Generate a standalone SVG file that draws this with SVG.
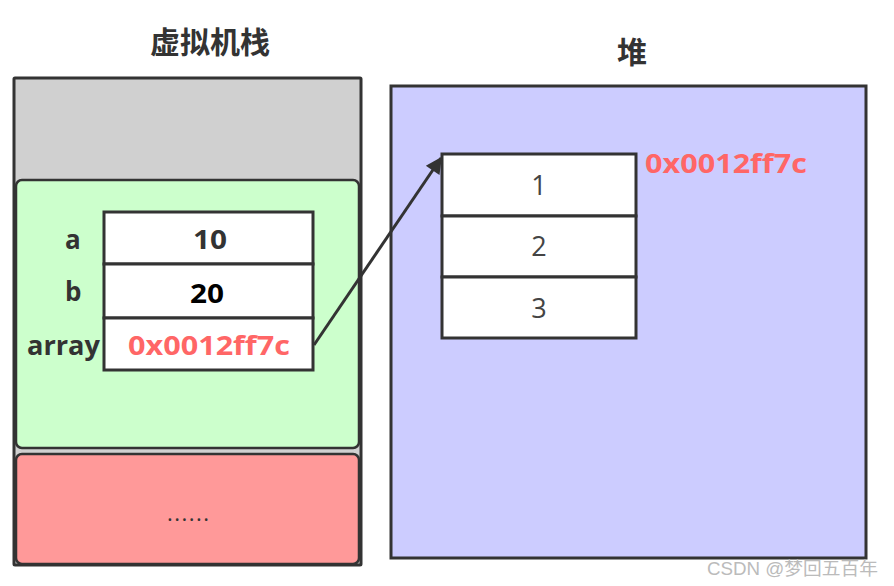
<svg xmlns="http://www.w3.org/2000/svg" width="894" height="586" viewBox="0 0 894 586">
<defs>
<style>
.box{stroke:#333;stroke-width:3}
.t{font-family:"Open Sans","Noto Sans CJK SC",sans-serif;fill:#333}
.b{font-weight:bold}
.lbl{font-size:26px;font-weight:bold}
.val{font-size:27px;text-anchor:middle;font-weight:bold}
.num{font-size:27px;text-anchor:middle;fill:#444}
.red{fill:#ff6666}
</style>
<marker id="ah" viewBox="0 0 10 10" refX="9" refY="5" markerWidth="7" markerHeight="5.5" orient="auto" markerUnits="strokeWidth">
<path d="M0,0 L10,5 L0,10 z" fill="#333"/>
</marker>
</defs>
<rect width="894" height="586" fill="#fff"/>
<g id="stack-title"><text class="t b" x="210" y="53" font-size="30" text-anchor="middle">虚拟机栈</text></g>
<g id="stack">
<rect class="box" x="14" y="78" width="347" height="487" fill="#d0d0d0" rx="1"/>
<rect x="16" y="180" width="343" height="268" rx="6" fill="#ccffcc" stroke="#333" stroke-width="2.5"/>
<rect x="16" y="454" width="343" height="110" rx="6" fill="#ff9999" stroke="#333" stroke-width="2.5"/>
<text class="t" x="167" y="521" font-size="22" textLength="42" lengthAdjust="spacing">......</text>
</g>
<g id="frame-table">
<rect class="box" x="104" y="212" width="209" height="52" fill="#fff"/>
<rect class="box" x="104" y="264" width="209" height="54" fill="#fff"/>
<rect class="box" x="104" y="318" width="209" height="52" fill="#fff"/>
<text class="t lbl" x="65" y="249">a</text>
<text class="t lbl" x="65" y="301">b</text>
<text class="t lbl" x="27" y="355" textLength="73" lengthAdjust="spacingAndGlyphs">array</text>
<text class="t val" x="210" y="249" textLength="34" lengthAdjust="spacingAndGlyphs">10</text>
<text class="t val" x="207" y="303" style="fill:#000" textLength="34" lengthAdjust="spacingAndGlyphs">20</text>
<text class="t val red" x="209" y="355" textLength="162" lengthAdjust="spacingAndGlyphs">0x0012ff7c</text>
</g>
<g id="heap-title"><text class="t b" x="632" y="63" font-size="30" text-anchor="middle">堆</text></g>
<g id="heap">
<rect class="box" x="391" y="86" width="475" height="472" fill="#ccccff"/>
</g>
<g id="heap-array">
<rect class="box" x="442" y="154" width="194" height="62" fill="#fff"/>
<rect class="box" x="442" y="216" width="194" height="61" fill="#fff"/>
<rect class="box" x="442" y="277" width="194" height="61" fill="#fff"/>
<text class="t num" x="539" y="195">1</text>
<text class="t num" x="539" y="256">2</text>
<text class="t num" x="539" y="318">3</text>
<text class="t b red" x="645" y="173" font-size="27" textLength="162" lengthAdjust="spacingAndGlyphs">0x0012ff7c</text>
</g>
<g id="connectors">
<line x1="314" y1="345" x2="441" y2="158" stroke="#333" stroke-width="3" marker-end="url(#ah)"/>
</g>
<text x="707" y="575" font-family="Liberation Sans,'Noto Sans CJK SC',sans-serif" font-size="18" fill="#bbb" textLength="171" lengthAdjust="spacingAndGlyphs">CSDN @梦回五百年</text>
</svg>
